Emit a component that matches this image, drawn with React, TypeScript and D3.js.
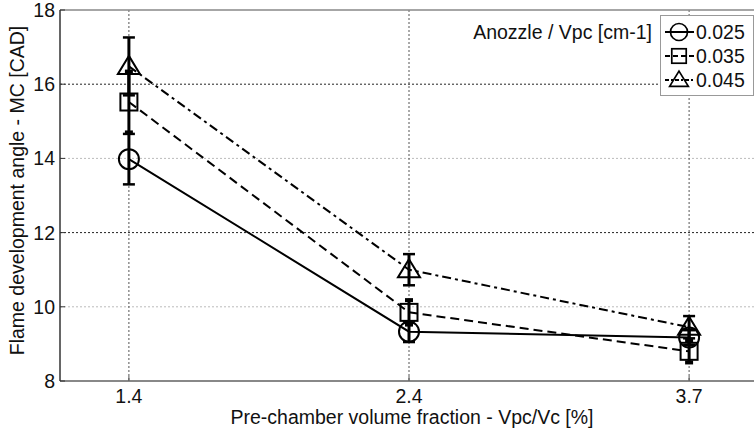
import React from "react";
import * as d3 from "d3";

const categories = ["1.4", "2.4", "3.7"];
const yTicks = [8, 10, 12, 14, 16, 18];
const seriesNames = ["0.025", "0.035", "0.045"];
const values025 = [13.98, 9.33, 9.17];
const errors025 = [0.68, 0.28, 0.2];
const values035 = [15.52, 9.85, 8.8];
const errors035 = [0.82, 0.33, 0.3];
const values045 = [16.48, 11.0, 9.45];
const errors045 = [0.78, 0.42, 0.3];
const legendTitle = "Anozzle / Vpc [cm-1]";
const xTitle = "Pre-chamber volume fraction - Vpc/Vc [%]";
const yTitle = "Flame development angle - MC [CAD]";

const W = 754;
const H = 433;
const L = 60, R = 758, T = 10, B = 381;
const FONT = "Arial, 'Liberation Sans', sans-serif";
const FS = 19.5;

type Series = { name: string; values: number[]; errors: number[]; marker: string; dash: string; capW: number };

const series: Series[] = [
  { name: seriesNames[0], values: values025, errors: errors025, marker: "circle", dash: "none", capW: 12 },
  { name: seriesNames[1], values: values035, errors: errors035, marker: "square", dash: "9,5", capW: 8 },
  { name: seriesNames[2], values: values045, errors: errors045, marker: "triangle", dash: "9,4,3,4", capW: 12 },
];

function Marker({ kind, x, y }: { kind: string; x: number; y: number }) {
  const common = { fill: "none", stroke: "#000", strokeWidth: 2 };
  if (kind === "circle") return <circle cx={x} cy={y} r={10} {...common} />;
  if (kind === "square") return <rect x={x - 8.5} y={y - 8.5} width={17} height={17} {...common} />;
  const h = 17, w = 22;
  return <path d={`M${x},${y - h / 2 - 2}L${x + w / 2},${y + h / 2 - 1}L${x - w / 2},${y + h / 2 - 1}Z`} {...common} />;
}

export default function App() {
  const x = d3.scalePoint<string>().domain(categories).range([L, R]).padding(0.246);
  const y = d3.scaleLinear().domain([8, 18]).range([B, T]);
  const line = d3.line<number>().x((_, i) => x(categories[i]) as number).y((d) => y(d));

  return (
    <svg width={W} height={H} style={{ position: "absolute", left: 0, top: 0, background: "#fff" }}>
      <rect x={0} y={0} width={W} height={H} fill="#fff" />
      {/* grid */}
      {yTicks.filter((t) => t > 8 && t < 18).map((t) => (
        <line key={"gy" + t} x1={L} x2={R} y1={y(t)} y2={y(t)}
          stroke={t % 4 === 0 ? "#222" : "#bbb"} strokeWidth={1} strokeDasharray="2,2" />
      ))}
      {categories.map((c) => (
        <line key={"gx" + c} x1={x(c)} x2={x(c)} y1={T} y2={B} stroke="#555" strokeWidth={1} strokeDasharray="2,2" />
      ))}
      {/* axes box */}
      <line x1={L} x2={R} y1={T} y2={T} stroke="#888" strokeWidth={1.5} />
      <line x1={L} x2={R} y1={B} y2={B} stroke="#888" strokeWidth={2} />
      <line x1={L} x2={L} y1={T} y2={B} stroke="#333" strokeWidth={1.5} />
      {yTicks.map((t) => (
        <g key={"yt" + t}>
          <line x1={L} x2={L + 5} y1={y(t)} y2={y(t)} stroke="#333" strokeWidth={1} />
          <text x={L - 5} y={y(t)} dy="0.36em" textAnchor="end" fontFamily={FONT} fontSize={FS} fill="#111">{t}</text>
        </g>
      ))}
      {categories.map((c) => (
        <g key={"xt" + c}>
          <line x1={x(c)} x2={x(c)} y1={B} y2={B - 5} stroke="#555" strokeWidth={1} />
          <text x={x(c)} y={403} textAnchor="middle" fontFamily={FONT} fontSize={FS} fill="#111">{c}</text>
        </g>
      ))}
      <text x={412} y={424} textAnchor="middle" fontFamily={FONT} fontSize={FS} fill="#111">{xTitle}</text>
      <text transform={`translate(24,${(T + B) / 2 - 5}) rotate(-90)`} textAnchor="middle" fontFamily={FONT} fontSize={FS} fill="#111">{yTitle}</text>

      {/* lines */}
      {series.map((s) => (
        <path key={"l" + s.name} d={line(s.values) || ""} fill="none" stroke="#000" strokeWidth={2} strokeDasharray={s.dash} />
      ))}
      {/* error bars */}
      {series.map((s) => s.values.map((v, i) => {
        const cx = x(categories[i]) as number;
        const y1 = y(v + s.errors[i]);
        const y2 = y(v - s.errors[i]);
        return (
          <g key={"e" + s.name + i}>
            <line x1={cx} x2={cx} y1={y1} y2={y2} stroke="#000" strokeWidth={3} />
            <line x1={cx - s.capW / 2} x2={cx + s.capW / 2} y1={y1} y2={y1} stroke="#000" strokeWidth={s.marker === "square" ? 4 : 2.5} />
            <line x1={cx - s.capW / 2} x2={cx + s.capW / 2} y1={y2} y2={y2} stroke="#000" strokeWidth={s.marker === "square" ? 4 : 2.5} />
          </g>
        );
      }))}
      {/* markers */}
      {series.map((s) => s.values.map((v, i) => (
        <Marker key={"m" + s.name + i} kind={s.marker} x={x(categories[i]) as number} y={y(v)} />
      )))}

      {/* legend */}
      <text x={652} y={39} textAnchor="end" fontFamily={FONT} fontSize={FS} fill="#111">{legendTitle}</text>
      <rect x={660.5} y={15.5} width={93} height={80} fill="#fff" stroke="#999" strokeWidth={1} />
      {series.map((s, i) => {
        const cy = 32 + i * 24;
        return (
          <g key={"lg" + s.name}>
            <line x1={665} x2={694} y1={cy} y2={cy} stroke="#000" strokeWidth={2} strokeDasharray={s.dash === "none" ? "none" : s.marker === "square" ? "5,3" : "4,2,2,2"} />
            <g transform={`translate(${679},${cy}) scale(0.85)`}>
              <Marker kind={s.marker} x={0} y={0} />
            </g>
            <text x={696} y={cy} dy="0.36em" fontFamily={FONT} fontSize={FS} fill="#111">{s.name}</text>
          </g>
        );
      })}
    </svg>
  );
}
